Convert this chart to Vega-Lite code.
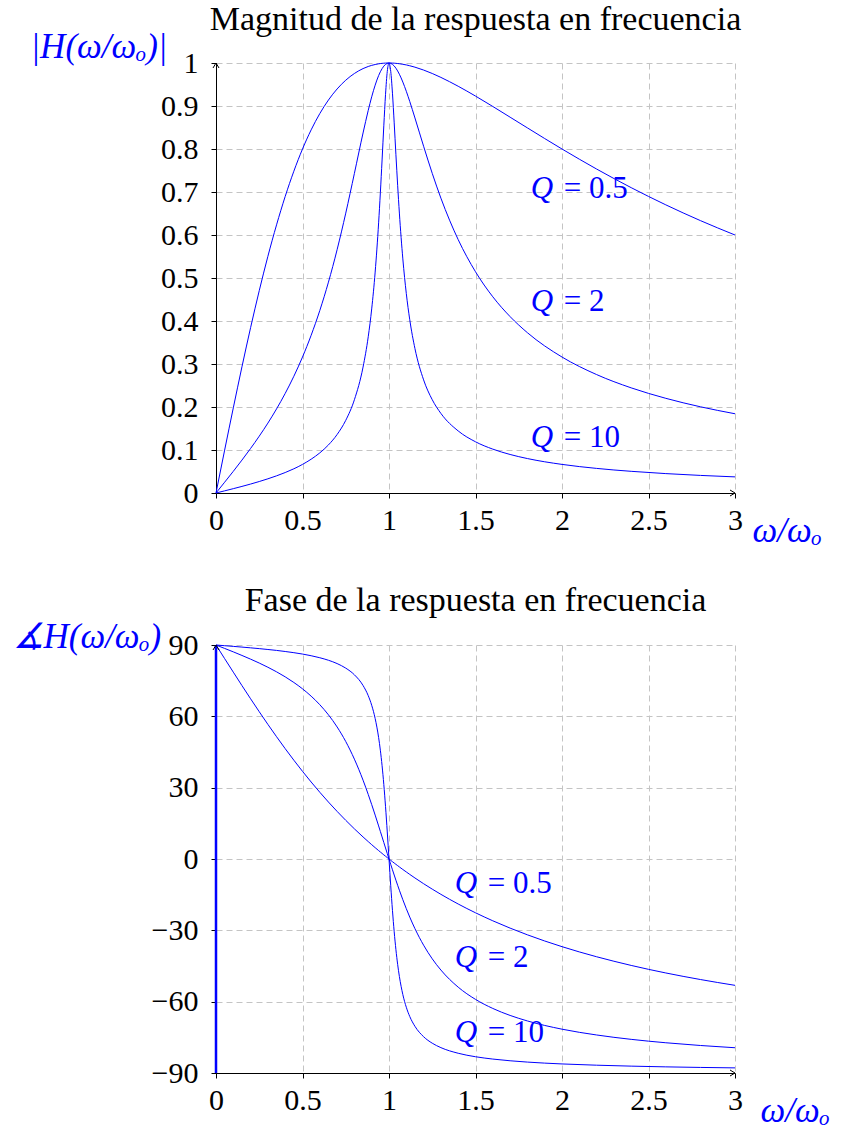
{
 "$schema": "https://vega.github.io/schema/vega-lite/v6.json",
 "background": "white",
 "padding": {"left": 12, "top": 3, "right": 2, "bottom": 2},
 "config": {
  "font": "Liberation Serif",
  "view": {"stroke": null},
  "axis": {"grid": true, "gridColor": "#c4c4c4", "gridDash": [6, 4], "gridWidth": 1, "domainColor": "#000000", "domainWidth": 1, "tickColor": "#000000", "tickSize": 5, "tickWidth": 1, "labelFont": "Liberation Serif", "labelFontSize": 30, "labelColor": "#000000", "labelFlush": false, "labelOverlap": false, "titleFont": "Liberation Serif", "titleFontSize": 35, "titleColor": "#0000ff", "titleFontWeight": "normal", "titleFontStyle": "italic"},
  "title": {"font": "Liberation Serif", "fontSize": 34, "fontWeight": "normal", "color": "#000000", "anchor": "middle", "frame": "group", "baseline": "alphabetic"}
 },
 "datasets": {
  "c": [
   {"w":0,"q":"0.5","m":0,"p":90},{"w":0.05,"q":"0.5","m":0.0998,"p":84.27},{"w":0.1,"q":"0.5","m":0.198,"p":78.58},{"w":0.15,"q":"0.5","m":0.2934,"p":72.94},{"w":0.2,"q":"0.5","m":0.3846,"p":67.38},{"w":0.25,"q":"0.5","m":0.4706,"p":61.93},{"w":0.3,"q":"0.5","m":0.5505,"p":56.6},{"w":0.35,"q":"0.5","m":0.6236,"p":51.43},{"w":0.4,"q":"0.5","m":0.6897,"p":46.4},{"w":0.45,"q":"0.5","m":0.7484,"p":41.55},{"w":0.5,"q":"0.5","m":0.8,"p":36.87},{"w":0.55,"q":"0.5","m":0.8445,"p":32.38},{"w":0.6,"q":"0.5","m":0.8824,"p":28.07},{"w":0.65,"q":"0.5","m":0.9139,"p":23.95},{"w":0.7,"q":"0.5","m":0.9396,"p":20.02},{"w":0.75,"q":"0.5","m":0.96,"p":16.26},{"w":0.8,"q":"0.5","m":0.9756,"p":12.68},{"w":0.85,"q":"0.5","m":0.987,"p":9.27},{"w":0.88,"q":"0.5","m":0.9919,"p":7.31},{"w":0.9,"q":"0.5","m":0.9945,"p":6.03},{"w":0.92,"q":"0.5","m":0.9965,"p":4.77},{"w":0.94,"q":"0.5","m":0.9981,"p":3.54},{"w":0.95,"q":"0.5","m":0.9987,"p":2.94},{"w":0.96,"q":"0.5","m":0.9992,"p":2.34},{"w":0.97,"q":"0.5","m":0.9995,"p":1.74},{"w":0.98,"q":"0.5","m":0.9998,"p":1.16},{"w":0.99,"q":"0.5","m":0.99995,"p":0.58},{"w":1,"q":"0.5","m":1,"p":0},{"w":1.01,"q":"0.5","m":0.99995,"p":-0.57},{"w":1.02,"q":"0.5","m":0.9998,"p":-1.13},{"w":1.03,"q":"0.5","m":0.9996,"p":-1.69},{"w":1.04,"q":"0.5","m":0.9992,"p":-2.25},{"w":1.05,"q":"0.5","m":0.9988,"p":-2.79},{"w":1.06,"q":"0.5","m":0.9983,"p":-3.34},{"w":1.08,"q":"0.5","m":0.997,"p":-4.41},{"w":1.1,"q":"0.5","m":0.9955,"p":-5.45},{"w":1.12,"q":"0.5","m":0.9936,"p":-6.48},{"w":1.15,"q":"0.5","m":0.9903,"p":-7.98},{"w":1.2,"q":"0.5","m":0.9836,"p":-10.39},{"w":1.25,"q":"0.5","m":0.9756,"p":-12.68},{"w":1.3,"q":"0.5","m":0.9665,"p":-14.86},{"w":1.4,"q":"0.5","m":0.9459,"p":-18.93},{"w":1.5,"q":"0.5","m":0.9231,"p":-22.62},{"w":1.6,"q":"0.5","m":0.8989,"p":-25.99},{"w":1.7,"q":"0.5","m":0.874,"p":-29.07},{"w":1.8,"q":"0.5","m":0.8491,"p":-31.89},{"w":2,"q":"0.5","m":0.8,"p":-36.87},{"w":2.2,"q":"0.5","m":0.7534,"p":-41.11},{"w":2.4,"q":"0.5","m":0.7101,"p":-44.76},{"w":2.6,"q":"0.5","m":0.6701,"p":-47.93},{"w":2.8,"q":"0.5","m":0.6335,"p":-50.69},{"w":3,"q":"0.5","m":0.6,"p":-53.13},
   {"w":0,"q":"2","m":0,"p":90},{"w":0.05,"q":"2","m":0.0251,"p":88.56},{"w":0.1,"q":"2","m":0.0504,"p":87.11},{"w":0.15,"q":"2","m":0.0765,"p":85.61},{"w":0.2,"q":"2","m":0.1036,"p":84.05},{"w":0.25,"q":"2","m":0.1322,"p":82.41},{"w":0.3,"q":"2","m":0.1626,"p":80.64},{"w":0.35,"q":"2","m":0.1956,"p":78.72},{"w":0.4,"q":"2","m":0.2316,"p":76.61},{"w":0.45,"q":"2","m":0.2715,"p":74.24},{"w":0.5,"q":"2","m":0.3162,"p":71.57},{"w":0.55,"q":"2","m":0.3668,"p":68.48},{"w":0.6,"q":"2","m":0.4244,"p":64.89},{"w":0.65,"q":"2","m":0.4904,"p":60.63},{"w":0.7,"q":"2","m":0.5658,"p":55.54},{"w":0.75,"q":"2","m":0.6508,"p":49.4},{"w":0.8,"q":"2","m":0.7433,"p":41.99},{"w":0.85,"q":"2","m":0.8373,"p":33.15},{"w":0.88,"q":"2","m":0.8899,"p":27.14},{"w":0.9,"q":"2","m":0.9213,"p":22.89},{"w":0.92,"q":"2","m":0.9485,"p":18.46},{"w":0.94,"q":"2","m":0.9707,"p":13.91},{"w":0.95,"q":"2","m":0.9796,"p":11.6},{"w":0.96,"q":"2","m":0.9869,"p":9.28},{"w":0.97,"q":"2","m":0.9927,"p":6.95},{"w":0.98,"q":"2","m":0.9968,"p":4.62},{"w":0.99,"q":"2","m":0.9992,"p":2.3},{"w":1,"q":"2","m":1,"p":0},{"w":1.01,"q":"2","m":0.9992,"p":-2.28},{"w":1.02,"q":"2","m":0.9969,"p":-4.53},{"w":1.03,"q":"2","m":0.9931,"p":-6.74},{"w":1.04,"q":"2","m":0.9879,"p":-8.92},{"w":1.05,"q":"2","m":0.9815,"p":-11.05},{"w":1.06,"q":"2","m":0.9739,"p":-13.13},{"w":1.08,"q":"2","m":0.9557,"p":-17.13},{"w":1.1,"q":"2","m":0.9342,"p":-20.9},{"w":1.12,"q":"2","m":0.9105,"p":-24.43},{"w":1.15,"q":"2","m":0.8722,"p":-29.29},{"w":1.2,"q":"2","m":0.8064,"p":-36.25},{"w":1.25,"q":"2","m":0.7433,"p":-41.99},{"w":1.3,"q":"2","m":0.6857,"p":-46.7},{"w":1.4,"q":"2","m":0.5892,"p":-53.9},{"w":1.5,"q":"2","m":0.5145,"p":-59.04},{"w":1.6,"q":"2","m":0.4563,"p":-62.85},{"w":1.7,"q":"2","m":0.4102,"p":-65.79},{"w":1.8,"q":"2","m":0.3728,"p":-68.11},{"w":2,"q":"2","m":0.3162,"p":-71.57},{"w":2.2,"q":"2","m":0.2754,"p":-74.01},{"w":2.4,"q":"2","m":0.2445,"p":-75.85},{"w":2.6,"q":"2","m":0.2202,"p":-77.28},{"w":2.8,"q":"2","m":0.2005,"p":-78.43},{"w":3,"q":"2","m":0.1843,"p":-79.38},
   {"w":0,"q":"10","m":0,"p":90},{"w":0.05,"q":"10","m":0.005,"p":89.71},{"w":0.1,"q":"10","m":0.0101,"p":89.42},{"w":0.15,"q":"10","m":0.0153,"p":89.12},{"w":0.2,"q":"10","m":0.0208,"p":88.81},{"w":0.25,"q":"10","m":0.0267,"p":88.47},{"w":0.3,"q":"10","m":0.033,"p":88.11},{"w":0.35,"q":"10","m":0.0399,"p":87.72},{"w":0.4,"q":"10","m":0.0476,"p":87.27},{"w":0.45,"q":"10","m":0.0563,"p":86.77},{"w":0.5,"q":"10","m":0.0665,"p":86.19},{"w":0.55,"q":"10","m":0.0786,"p":85.49},{"w":0.6,"q":"10","m":0.0933,"p":84.64},{"w":0.65,"q":"10","m":0.1118,"p":83.58},{"w":0.7,"q":"10","m":0.136,"p":82.19},{"w":0.75,"q":"10","m":0.169,"p":80.27},{"w":0.8,"q":"10","m":0.2169,"p":77.47},{"w":0.85,"q":"10","m":0.2929,"p":72.97},{"w":0.88,"q":"10","m":0.3634,"p":68.69},{"w":0.9,"q":"10","m":0.4281,"p":64.65},{"w":0.92,"q":"10","m":0.5138,"p":59.08},{"w":0.94,"q":"10","m":0.6283,"p":51.08},{"w":0.95,"q":"10","m":0.6979,"p":45.74},{"w":0.96,"q":"10","m":0.7745,"p":39.24},{"w":0.97,"q":"10","m":0.8539,"p":31.35},{"w":0.98,"q":"10","m":0.9272,"p":22},{"w":0.99,"q":"10","m":0.9804,"p":11.37},{"w":1,"q":"10","m":1,"p":0},{"w":1.01,"q":"10","m":0.9808,"p":-11.26},{"w":1.02,"q":"10","m":0.9297,"p":-21.61},{"w":1.03,"q":"10","m":0.8608,"p":-30.6},{"w":1.04,"q":"10","m":0.7867,"p":-38.12},{"w":1.05,"q":"10","m":0.7156,"p":-44.31},{"w":1.06,"q":"10","m":0.651,"p":-49.39},{"w":1.08,"q":"10","m":0.5444,"p":-57.02},{"w":1.1,"q":"10","m":0.464,"p":-62.35},{"w":1.12,"q":"10","m":0.4029,"p":-66.24},{"w":1.15,"q":"10","m":0.3359,"p":-70.37},{"w":1.2,"q":"10","m":0.2631,"p":-74.74},{"w":1.25,"q":"10","m":0.2169,"p":-77.47},{"w":1.3,"q":"10","m":0.1851,"p":-79.33},{"w":1.4,"q":"10","m":0.1443,"p":-81.7},{"w":1.5,"q":"10","m":0.1191,"p":-83.16},{"w":1.6,"q":"10","m":0.102,"p":-84.14},{"w":1.7,"q":"10","m":0.0896,"p":-84.86},{"w":1.8,"q":"10","m":0.0801,"p":-85.41},{"w":2,"q":"10","m":0.0665,"p":-86.19},{"w":2.2,"q":"10","m":0.0572,"p":-86.72},{"w":2.4,"q":"10","m":0.0504,"p":-87.11},{"w":2.6,"q":"10","m":0.0451,"p":-87.42},{"w":2.8,"q":"10","m":0.0409,"p":-87.66},{"w":3,"q":"10","m":0.0375,"p":-87.85}
  ],
  "labm": [
   {"w":1.82,"m":0.707,"a":"Q","b":"= 0.5"},
   {"w":1.82,"m":0.444,"a":"Q","b":"= 2"},
   {"w":1.82,"m":0.128,"a":"Q","b":"= 10"}
  ],
  "labp": [
   {"w":1.38,"p":-10.5,"a":"Q","b":"= 0.5"},
   {"w":1.38,"p":-41.6,"a":"Q","b":"= 2"},
   {"w":1.38,"p":-73.2,"a":"Q","b":"= 10"}
  ],
  "jump": [{"w":0,"p":-90,"p2":90}],
  "arrmx": [{"w":3,"m":0}],
  "arrmy": [{"w":0,"m":1}],
  "arrpx": [{"w":3,"p":-90}],
  "arrpy": [{"w":0,"p":90}]
 },
 "spacing": 36,
 "vconcat": [
  {
   "title": {"text": "Magnitud de la respuesta en frecuencia", "offset": -8},
   "width": 519,
   "height": 430,
   "layer": [
    {
     "data": {"name": "c"},
     "mark": {"type": "line", "color": "#0000ff", "strokeWidth": 1, "interpolate": "monotone"},
     "encoding": {
      "x": {"field": "w", "type": "quantitative", "scale": {"domain": [0, 3], "nice": false, "zero": false},
            "axis": {"values": [0, 0.5, 1, 1.5, 2, 2.5, 3], "format": "~f", "title": "ω/ωₒ", "titleX": 536, "titleY": 37, "titleAlign": "left", "titleBaseline": "middle", "labelPadding": 7}},
      "y": {"field": "m", "type": "quantitative", "scale": {"domain": [0, 1], "nice": false},
            "axis": {"values": [0, 0.1, 0.2, 0.3, 0.4, 0.5, 0.6, 0.7, 0.8, 0.9, 1], "format": "~f", "title": "|H(ω/ωₒ)|", "titleAngle": 0, "titleX": -186, "titleY": -17, "titleAlign": "left", "titleBaseline": "middle", "labelPadding": 13}},
      "detail": {"field": "q"}
     }
    },
    {
     "data": {"name": "labm"},
     "mark": {"type": "text", "color": "#0000ff", "fontSize": 31, "fontStyle": "italic", "align": "left", "baseline": "middle"},
     "encoding": {"x": {"field": "w", "type": "quantitative"}, "y": {"field": "m", "type": "quantitative"}, "text": {"field": "a"}}
    },
    {
     "data": {"name": "labm"},
     "mark": {"type": "text", "color": "#0000ff", "fontSize": 31, "align": "left", "baseline": "middle", "dx": 33},
     "encoding": {"x": {"field": "w", "type": "quantitative"}, "y": {"field": "m", "type": "quantitative"}, "text": {"field": "b"}}
    },
    {
     "data": {"name": "arrmx"},
     "mark": {"type": "point", "shape": "M-2,-1.2L0,0L-2,1.2", "size": 25, "filled": false, "color": "#000000", "strokeWidth": 1, "opacity": 1},
     "encoding": {"x": {"field": "w", "type": "quantitative"}, "y": {"field": "m", "type": "quantitative"}}
    },
    {
     "data": {"name": "arrmy"},
     "mark": {"type": "point", "shape": "M-1.2,2L0,0L1.2,2", "size": 25, "filled": false, "color": "#000000", "strokeWidth": 1, "opacity": 1},
     "encoding": {"x": {"field": "w", "type": "quantitative"}, "y": {"field": "m", "type": "quantitative"}}
    }
   ]
  },
  {
   "title": {"text": "Fase de la respuesta en frecuencia", "offset": 1},
   "width": 519,
   "height": 428,
   "layer": [
    {
     "data": {"name": "c"},
     "mark": {"type": "line", "color": "#0000ff", "strokeWidth": 1, "interpolate": "monotone"},
     "encoding": {
      "x": {"field": "w", "type": "quantitative", "scale": {"domain": [0, 3], "nice": false, "zero": false},
            "axis": {"values": [0, 0.5, 1, 1.5, 2, 2.5, 3], "format": "~f", "title": "ω/ωₒ", "titleX": 544, "titleY": 37, "titleAlign": "left", "titleBaseline": "middle", "labelPadding": 7}},
      "y": {"field": "p", "type": "quantitative", "scale": {"domain": [-90, 90], "nice": false},
            "axis": {"values": [-90, -60, -30, 0, 30, 60, 90], "format": "~f", "title": "∡H(ω/ωₒ)", "titleAngle": 0, "titleX": -204, "titleY": -9, "titleAlign": "left", "titleBaseline": "middle", "labelPadding": 13}},
      "detail": {"field": "q"}
     }
    },
    {
     "data": {"name": "jump"},
     "mark": {"type": "rule", "color": "#0000ff", "strokeWidth": 2.5},
     "encoding": {"x": {"field": "w", "type": "quantitative"}, "y": {"field": "p", "type": "quantitative"}, "y2": {"field": "p2"}}
    },
    {
     "data": {"name": "labp"},
     "mark": {"type": "text", "color": "#0000ff", "fontSize": 31, "fontStyle": "italic", "align": "left", "baseline": "middle"},
     "encoding": {"x": {"field": "w", "type": "quantitative"}, "y": {"field": "p", "type": "quantitative"}, "text": {"field": "a"}}
    },
    {
     "data": {"name": "labp"},
     "mark": {"type": "text", "color": "#0000ff", "fontSize": 31, "align": "left", "baseline": "middle", "dx": 33},
     "encoding": {"x": {"field": "w", "type": "quantitative"}, "y": {"field": "p", "type": "quantitative"}, "text": {"field": "b"}}
    },
    {
     "data": {"name": "arrpx"},
     "mark": {"type": "point", "shape": "M-2,-1.2L0,0L-2,1.2", "size": 25, "filled": false, "color": "#000000", "strokeWidth": 1, "opacity": 1},
     "encoding": {"x": {"field": "w", "type": "quantitative"}, "y": {"field": "p", "type": "quantitative"}}
    },
    {
     "data": {"name": "arrpy"},
     "mark": {"type": "point", "shape": "M-1.2,2L0,0L1.2,2", "size": 25, "filled": false, "color": "#000000", "strokeWidth": 1, "opacity": 1},
     "encoding": {"x": {"field": "w", "type": "quantitative"}, "y": {"field": "p", "type": "quantitative"}}
    }
   ]
  }
 ]
}
